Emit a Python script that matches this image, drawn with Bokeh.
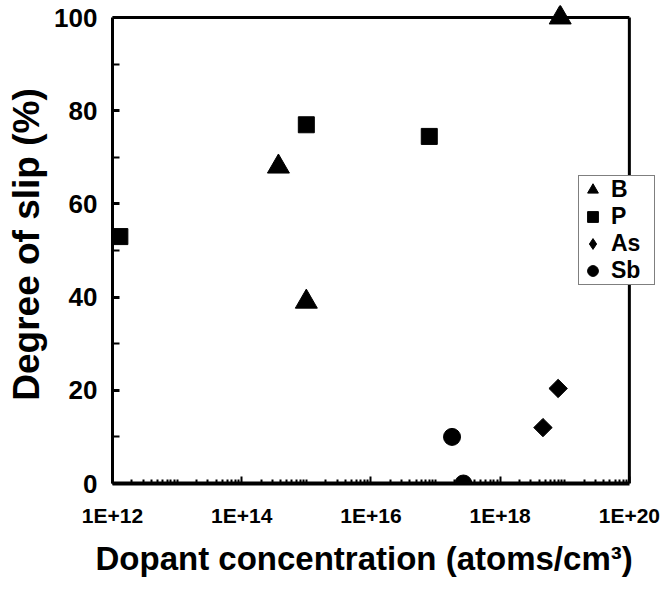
from bokeh.plotting import figure
from bokeh.models import FixedTicker, Legend, LegendItem, Title
from bokeh.embed import file_html
from bokeh.resources import INLINE

# ---- data ----
b_conc = [3.7e14, 1.0e15, 8.5e18]
b_slip = [68, 39, 100]
p_conc = [1.3e12, 1.0e15, 8.0e16]
p_slip = [53, 77, 74.5]
as_conc = [4.6e18, 7.9e18]
as_slip = [12, 20.4]
sb_conc = [1.8e17, 2.7e17]
sb_slip = [10, 0]

x_tick_values = [1e12, 1e14, 1e16, 1e18, 1e20]
x_tick_labels = ["1E+12", "1E+14", "1E+16", "1E+18", "1E+20"]
y_tick_values = [0, 20, 40, 60, 80, 100]
y_minor_values = [10, 30, 50, 70, 90]

X_MIN, X_MAX = 1e12, 1e20      # axis limits of the chart box
Y_MIN, Y_MAX = 0, 100

FONT = "Liberation Sans"

# frame is a bit larger than the chart box (room for legend / top marker)
X_VIEW_END = 10 ** 20.42
Y_VIEW_END = 102.6

p = figure(frame_width=544, frame_height=478,
           x_axis_type="log", x_range=(X_MIN, X_VIEW_END), y_range=(Y_MIN, Y_VIEW_END),
           output_backend="svg", toolbar_location=None,
           min_border_left=112, min_border_top=5,
           min_border_right=4, min_border_bottom=103)

p.grid.visible = False
p.outline_line_color = None

# box: top and right border
p.segment(x0=[X_MIN], y0=[Y_MAX], x1=[X_MAX], y1=[Y_MAX], line_color="black", line_width=3)
p.segment(x0=[X_MAX], y0=[Y_MIN], x1=[X_MAX], y1=[Y_MAX], line_color="black", line_width=3)

# y axis
yax = p.yaxis[0]
yax.bounds = (Y_MIN, Y_MAX)
yax.ticker = FixedTicker(ticks=y_tick_values, minor_ticks=y_minor_values)
yax.major_tick_in = 7
yax.major_tick_out = 0
yax.minor_tick_in = 7
yax.minor_tick_out = 0
yax.major_tick_line_width = 3
yax.minor_tick_line_width = 2
yax.axis_line_width = 3
yax.major_label_text_font = FONT
yax.major_label_text_font_style = "bold"
yax.major_label_text_font_size = "26px"
yax.major_label_text_color = "black"
yax.major_label_standoff = 15
yax.axis_label = "Degree of slip (%)"
yax.axis_label_text_font = FONT
yax.axis_label_text_font_style = "bold"
yax.axis_label_text_font_size = "37px"
yax.axis_label_text_color = "black"
yax.axis_label_standoff = 4

# x axis
minor = [m * 10.0 ** e for e in range(12, 20) for m in range(2, 10)] + [1e13, 1e15, 1e17, 1e19]
xax = p.xaxis[0]
xax.bounds = (X_MIN, X_MAX)
xax.ticker = FixedTicker(ticks=x_tick_values, minor_ticks=minor)
xax.major_label_overrides = dict(zip(x_tick_values, x_tick_labels))
xax.major_tick_in = 7
xax.major_tick_out = 0
xax.minor_tick_in = 4
xax.minor_tick_out = 0
xax.major_tick_line_width = 2
xax.minor_tick_line_width = 2
xax.axis_line_width = 4
xax.major_label_text_font = FONT
xax.major_label_text_font_style = "bold"
xax.major_label_text_font_size = "21px"
xax.major_label_text_color = "black"
xax.major_label_standoff = 20

xtitle = Title(text="Dopant concentration (atoms/cm\u00b3)", align="left", offset=-17,
               text_font=FONT, text_font_style="bold", text_font_size="33px",
               text_color="black", standoff=16)
p.add_layout(xtitle, "below")

rb = p.scatter(b_conc, b_slip, marker="triangle", size=22, color="black")
rp = p.scatter(p_conc, p_slip, marker="square", size=16, color="black")
# As: diamond (used for the legend key) covered by an even-sided rotated square
ra_key = p.scatter(as_conc, as_slip, marker="diamond", size=13, color="black")
ra = p.scatter(as_conc, as_slip, marker="square", angle=0.785398, size=13, color="black")
rs = p.scatter(sb_conc, sb_slip, marker="circle", size=17, color="black")

legend = Legend(items=[LegendItem(label="B", renderers=[rb]),
                       LegendItem(label="P", renderers=[rp]),
                       LegendItem(label="As", renderers=[ra_key]),
                       LegendItem(label="Sb", renderers=[rs])],
                location=(466, 198))
legend.border_line_color = "black"
legend.border_line_width = 1
legend.background_fill_color = "white"
legend.background_fill_alpha = 1
legend.label_text_font = FONT
legend.label_text_font_style = "bold"
legend.label_text_font_size = "23px"
legend.label_text_color = "black"
legend.glyph_width = 27
legend.glyph_height = 27
legend.label_height = 27
legend.label_width = 43
legend.spacing = 0
legend.padding = 0
legend.margin = 0
legend.label_standoff = 5
p.add_layout(legend, "center")

open("out.html", "w").write(file_html(p, INLINE))
